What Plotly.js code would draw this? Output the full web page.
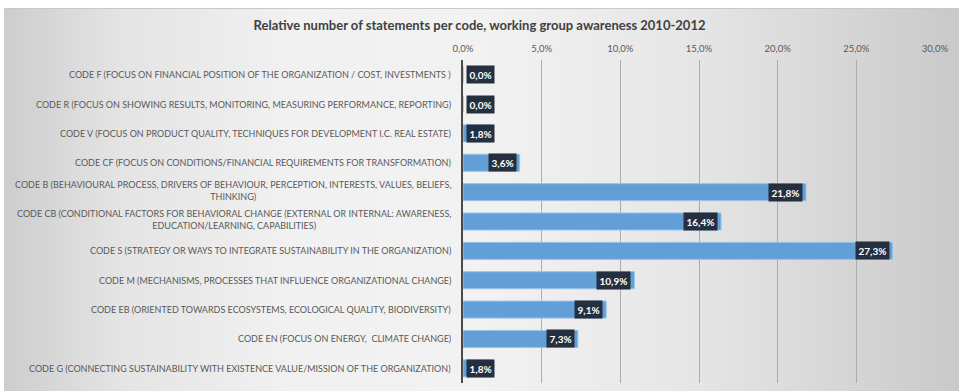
<!DOCTYPE html>
<html>
<head>
<meta charset="utf-8">
<script src="https://cdn.plot.ly/plotly-3.0.1.min.js"></script>
<style>
  html, body { margin: 0; padding: 0; background: #ffffff; }
  #wrap { position: relative; width: 959px; height: 391px; overflow: hidden; }
  #bg { position: absolute; left: 4px; top: 8px; width: 955px; height: 383px;
        border-top: 1px solid #c8c8c8;
        background: linear-gradient(to right, #cdcdcd 0%, #e4e4e4 12%, #f1f1f1 30%, #f2f2f2 50%, #e6e6e6 72%, #d6d6d6 88%, #c9c9c9 100%); }
  #chart { position: absolute; left: 0; top: 0; width: 959px; height: 391px; }
</style>
</head>
<body>
<div id="wrap">
  <div id="bg"></div>
  <div id="chart"></div>
</div>
<script>
const categories = [
  "CODE F (FOCUS ON FINANCIAL POSITION OF THE ORGANIZATION / COST, INVESTMENTS )",
  "CODE R (FOCUS ON SHOWING RESULTS, MONITORING, MEASURING PERFORMANCE, REPORTING)",
  "CODE V (FOCUS ON PRODUCT QUALITY, TECHNIQUES FOR DEVELOPMENT I.C. REAL ESTATE)",
  "CODE CF (FOCUS ON CONDITIONS/FINANCIAL REQUIREMENTS FOR TRANSFORMATION)",
  "CODE B (BEHAVIOURAL PROCESS, DRIVERS OF BEHAVIOUR, PERCEPTION, INTERESTS, VALUES, BELIEFS,<br>THINKING)",
  "CODE CB (CONDITIONAL FACTORS FOR BEHAVIORAL CHANGE (EXTERNAL OR INTERNAL: AWARENESS,<br>EDUCATION/LEARNING, CAPABILITIES)",
  "CODE S (STRATEGY OR WAYS TO INTEGRATE SUSTAINABILITY IN THE ORGANIZATION)",
  "CODE M (MECHANISMS, PROCESSES THAT INFLUENCE ORGANIZATIONAL CHANGE)",
  "CODE EB (ORIENTED TOWARDS ECOSYSTEMS, ECOLOGICAL QUALITY, BIODIVERSITY)",
  "CODE EN (FOCUS ON ENERGY,  CLIMATE CHANGE)",
  "CODE G (CONNECTING SUSTAINABILITY WITH EXISTENCE VALUE/MISSION OF THE ORGANIZATION)"
];
const values = [0.0, 0.0, 1.8, 3.6, 21.8, 16.4, 27.3, 10.9, 9.1, 7.3, 1.8];
const valueLabels = ["0,0%", "0,0%", "1,8%", "3,6%", "21,8%", "16,4%", "27,3%", "10,9%", "9,1%", "7,3%", "1,8%"];
const tickVals = [0, 5, 10, 15, 20, 25, 30];
const tickText = ["0,0%", "5,0%", "10,0%", "15,0%", "20,0%", "25,0%", "30,0%"];
const chartTitle = "Relative number of statements per code, working group awareness 2010-2012";

const ids = categories.map((c, i) => "c" + i);

const trace = {
  type: "bar",
  orientation: "h",
  x: values,
  y: ids,
  width: 0.58,
  marker: { color: "#629fd7", line: { color: "#9cc3e8", width: 1 } },
  hoverinfo: "skip"
};

const annotations = [];
categories.forEach((c, i) => {
  const multi = c.indexOf("<br>") >= 0;
  annotations.push({
    xref: "paper", yref: "y", x: 0, y: ids[i],
    text: c, showarrow: false, xanchor: "right", yanchor: "middle",
    align: "center", xshift: -10, yshift: multi ? 2 : 0,
    font: { family: "Lato, 'Open Sans', sans-serif", size: 9, color: "#595959", lineposition: "none" }
  });
  const small = values[i] < 2.5;
  annotations.push({
    xref: "x", yref: "y", x: small ? 0 : values[i], y: ids[i],
    text: "<b>" + valueLabels[i] + "</b>", showarrow: false,
    xanchor: small ? "left" : "right", yanchor: "middle",
    xshift: small ? 3 : -3,
    bgcolor: "#252f40", borderpad: 2.5,
    font: { family: "Lato, 'Open Sans', sans-serif", size: 10, color: "#ffffff" }
  });
});

const layout = {
  width: 959, height: 391,
  paper_bgcolor: "rgba(0,0,0,0)",
  plot_bgcolor: "rgba(0,0,0,0)",
  margin: { l: 463, r: 24, t: 60, b: 8 },
  showlegend: false,
  separators: ", ",
  title: {
    text: chartTitle,
    x: 0.5, xanchor: "center", y: 0.935, yanchor: "middle",
    font: { family: "Lato, 'Open Sans', sans-serif", size: 13, color: "#404040", weight: "bold" }
  },
  xaxis: {
    side: "top",
    range: [0, 30],
    tickvals: tickVals, ticktext: tickText,
    showgrid: true, gridcolor: "#adadad", gridwidth: 1,
    zeroline: false, showline: false, ticks: "",
    ticklabelstandoff: 5,
    tickfont: { family: "Lato, 'Open Sans', sans-serif", size: 9.5, color: "#595959" },
    fixedrange: true
  },
  yaxis: {
    type: "category",
    autorange: "reversed",
    showticklabels: false,
    showgrid: false, zeroline: false,
    showline: true, linecolor: "#4a4a4a", linewidth: 2,
    ticks: "",
    fixedrange: true
  },
  annotations: annotations
};

Plotly.newPlot("chart", [trace], layout, { displayModeBar: false, staticPlot: true });
</script>
</body>
</html>
